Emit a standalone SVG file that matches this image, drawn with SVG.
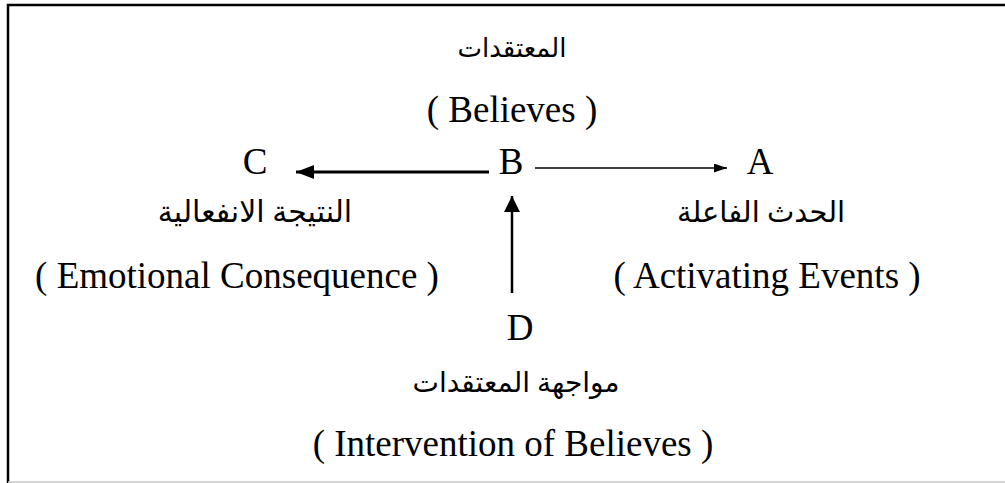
<svg xmlns="http://www.w3.org/2000/svg" width="1005" height="483" viewBox="0 0 1005 483">
<style>
.t{font-family:"Liberation Serif","DejaVu Sans",serif;font-size:37px;fill:#000;text-anchor:middle}
.ar{font-family:"Liberation Serif","DejaVu Sans",serif;font-size:30px;fill:#000;text-anchor:middle}
.ln{stroke:#000;fill:none}
</style>
<defs>
<marker id="hC" markerUnits="userSpaceOnUse" markerWidth="20" markerHeight="16" refX="18" refY="7" orient="auto"><path d="M0,0 L18,7 L0,14 Z" fill="#000"/></marker>
<marker id="hA" markerUnits="userSpaceOnUse" markerWidth="14" markerHeight="10" refX="13" refY="4.5" orient="auto"><path d="M0,0 L13,4.5 L0,9 Z" fill="#000"/></marker>
<marker id="hD" markerUnits="userSpaceOnUse" markerWidth="18" markerHeight="18" refX="16" refY="8" orient="auto"><path d="M0,0 L16,8 L0,16 Z" fill="#000"/></marker>
</defs>
<g id="frame">
<path d="M8,483 L8,5 L1005,5" stroke="#000" stroke-width="2.5" fill="none"/>
<line x1="8" y1="482" x2="1005" y2="482" stroke="#c8c8c8" stroke-width="1.5"/>
</g>
<g id="connectors">
<line class="ln" x1="489" y1="172" x2="296" y2="172" stroke-width="3" marker-end="url(#hC)"/>
<line class="ln" x1="535" y1="168" x2="727" y2="168" stroke-width="1.3" marker-end="url(#hA)"/>
<line class="ln" x1="512" y1="293" x2="512" y2="196" stroke-width="2.5" marker-end="url(#hD)"/>
</g>
<g id="node-B">
<text class="ar" x="512" y="57" style="font-size:26px">المعتقدات</text>
<text class="t" x="512" y="122">( Believes )</text>
<text class="t" x="511" y="174">B</text>
</g>
<g id="node-C">
<text class="t" x="255" y="174">C</text>
<text class="ar" x="255" y="222">النتيجة الانفعالية</text>
<text class="t" x="237" y="288">( Emotional Consequence )</text>
</g>
<g id="node-A">
<text class="t" x="760" y="174">A</text>
<text class="ar" x="761" y="222" style="font-size:29px">الحدث الفاعلة</text>
<text class="t" x="767" y="288">( Activating Events )</text>
</g>
<g id="node-D">
<text class="t" x="520" y="340">D</text>
<text class="ar" x="516" y="392" style="font-size:28px">مواجهة المعتقدات</text>
<text class="t" x="513" y="456">( Intervention of Believes )</text>
</g>
</svg>
